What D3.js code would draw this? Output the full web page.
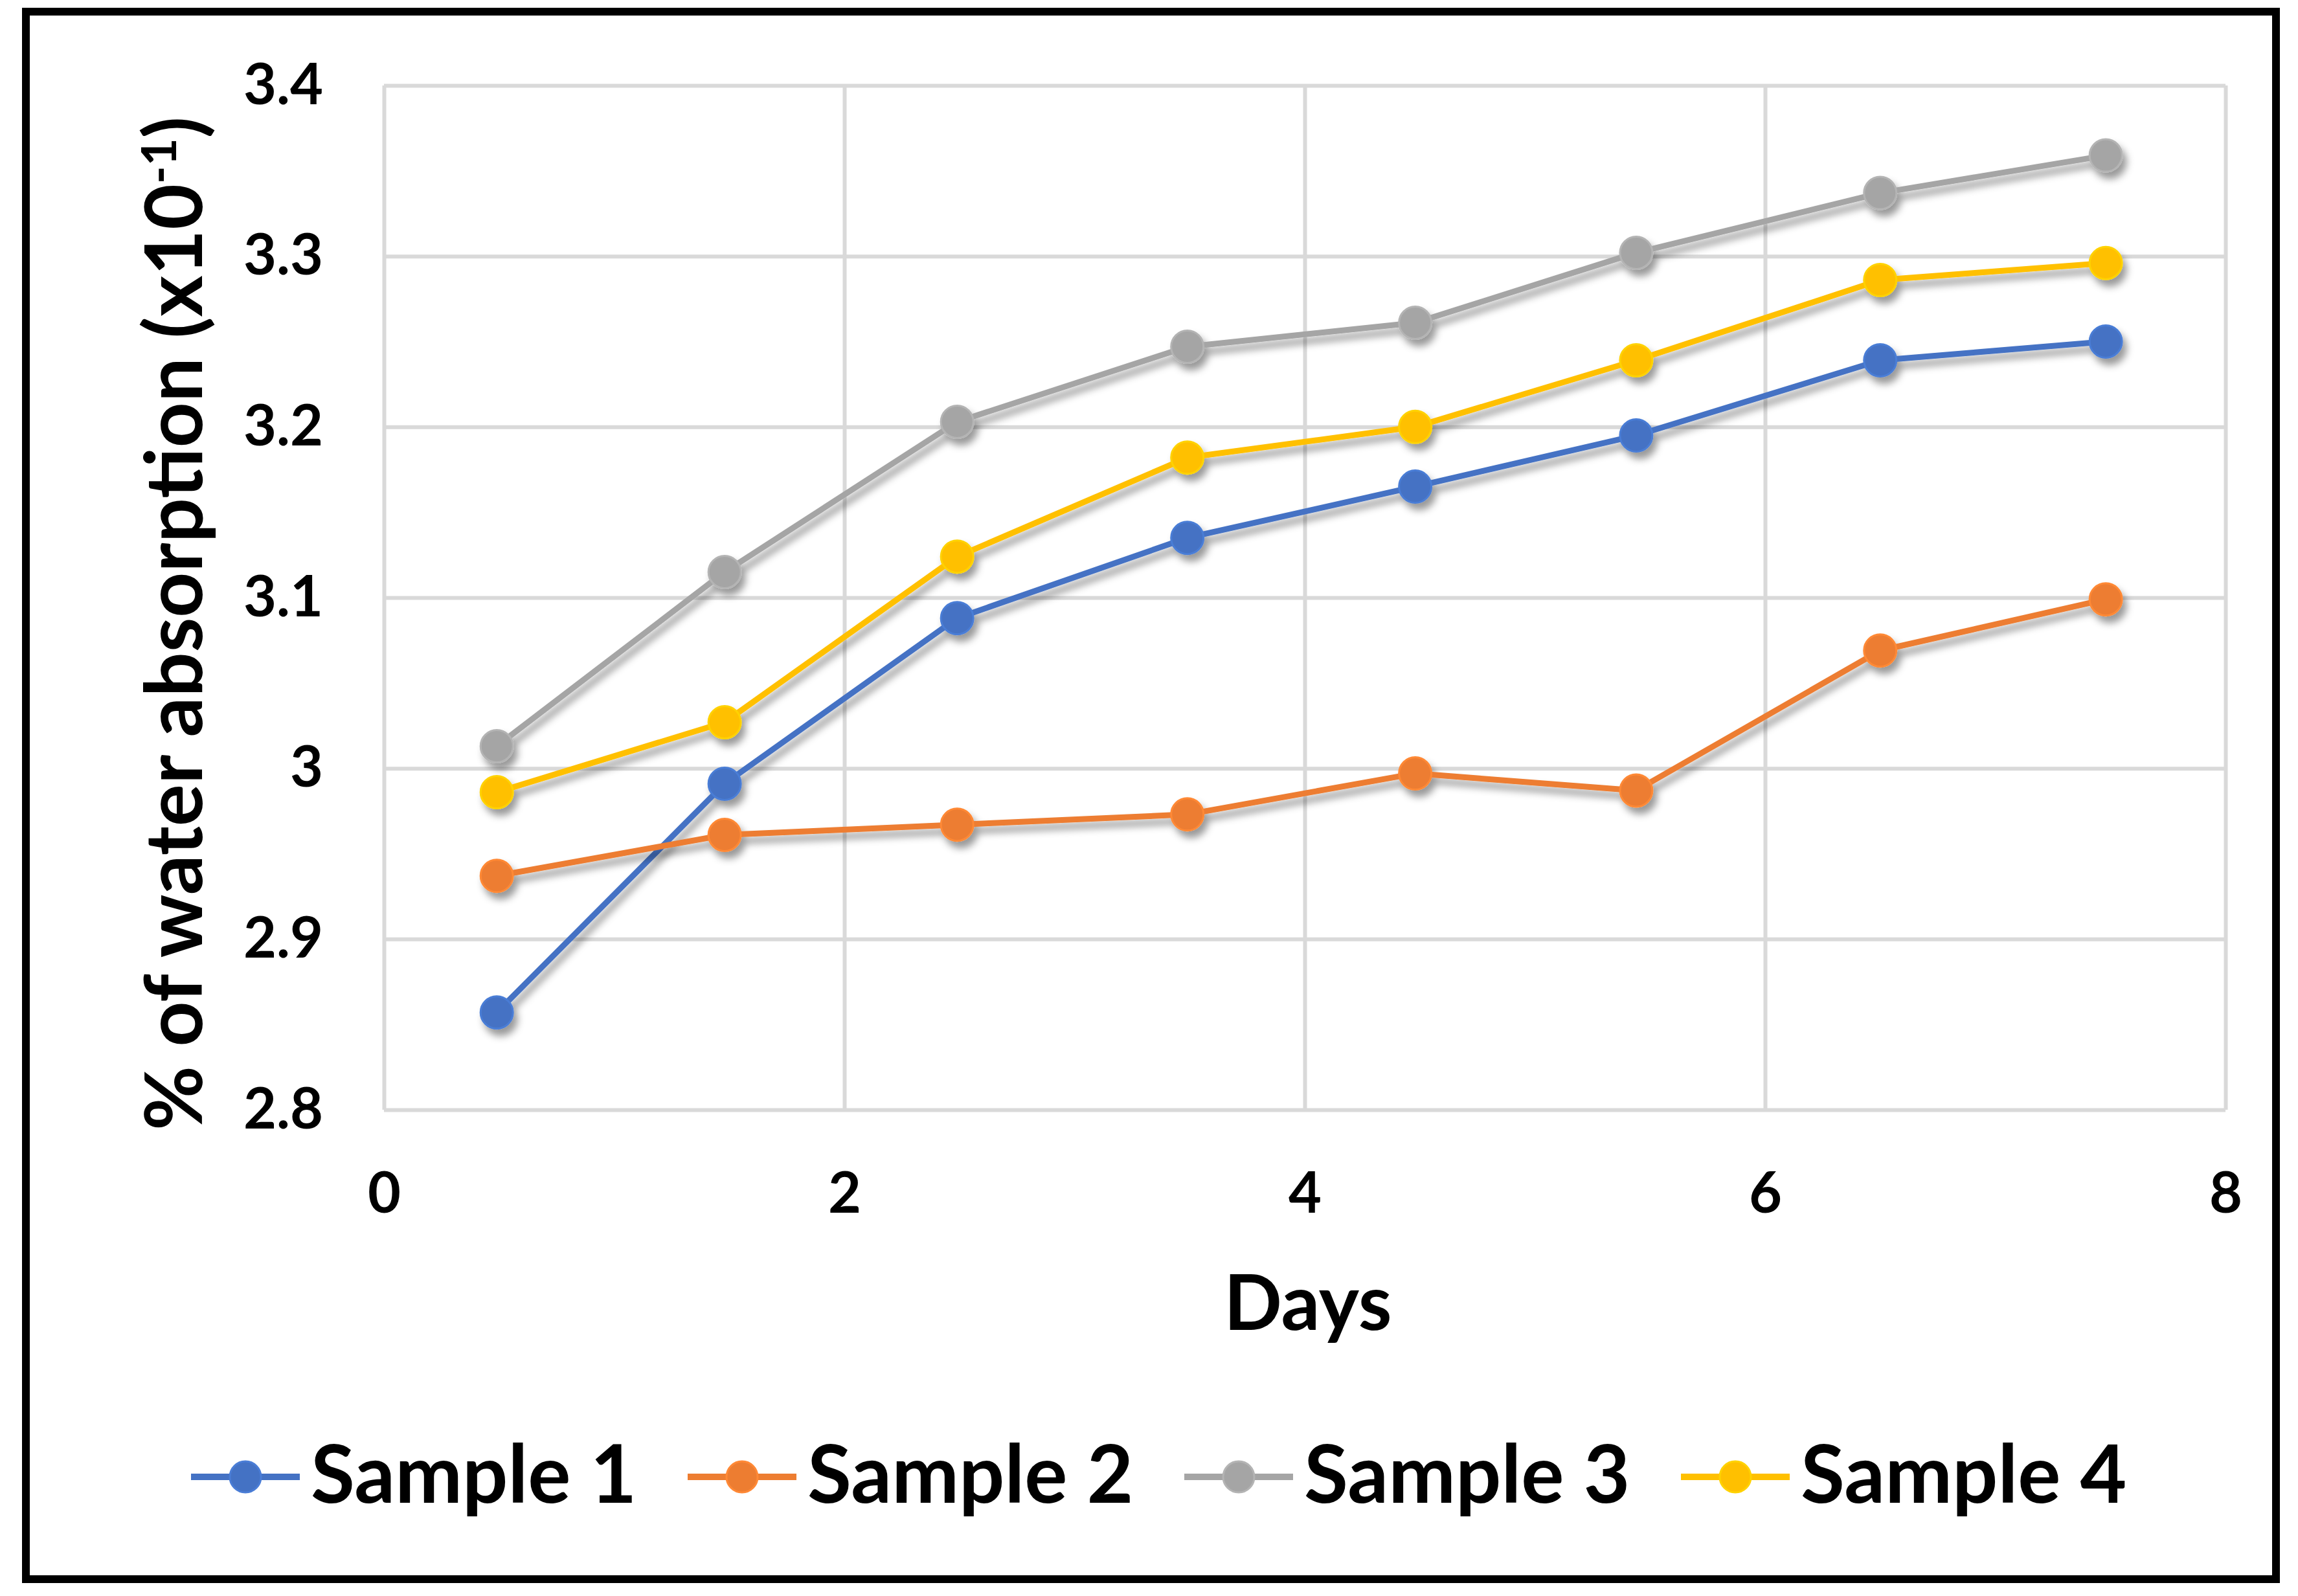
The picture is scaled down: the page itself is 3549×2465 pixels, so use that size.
<!DOCTYPE html>
<html>
<head>
<meta charset="utf-8">
<script src="https://cdn.jsdelivr.net/npm/d3@7"></script>
<style>
  body { margin: 0; background: #fff; }
  svg { display: block; }
</style>
</head>
<body>
<svg id="chart" width="3549" height="2465"></svg>
<script>
// ─── DONNÉES ──────────────────────────────────────────────────────────────────
const days    = [0.49, 1.48, 2.49, 3.49, 4.48, 5.44, 6.5, 7.48];
const sample1 = [2.857, 2.991, 3.088, 3.135, 3.165, 3.195, 3.239, 3.250];
const sample2 = [2.937, 2.961, 2.967, 2.973, 2.997, 2.987, 3.069, 3.099];
const sample3 = [3.013, 3.115, 3.203, 3.247, 3.261, 3.302, 3.337, 3.359];
const sample4 = [2.986, 3.027, 3.124, 3.182, 3.200, 3.239, 3.286, 3.296];

const seriesNames  = ["Sample 1", "Sample 2", "Sample 3", "Sample 4"];
const seriesColors = ["#4472C4", "#ED7D31", "#A5A5A5", "#FFC000"];

const xTicks = [0, 2, 4, 6, 8];
const yTicks = [2.8, 2.9, 3.0, 3.1, 3.2, 3.3, 3.4];

const series = [sample1, sample2, sample3, sample4].map((vals, i) => ({
    name: seriesNames[i],
    color: seriesColors[i],
    points: vals.map((v, j) => ({ x: days[j], y: v }))
}));

// ─── MISE EN PAGE ─────────────────────────────────────────────────────────────
const FONT = "Lato, 'Open Sans', sans-serif";
const plot = { left: 593, right: 3437, top: 132, bottom: 1714 };
const W = plot.right - plot.left;
const H = plot.bottom - plot.top;

const svg = d3.select("#chart");

svg.append("rect")
    .attr("width", 3549).attr("height", 2465)
    .attr("fill", "#fff");

// Cadre noir
svg.append("rect")
    .attr("x", 40).attr("y", 18)
    .attr("width", 3475).attr("height", 2421)
    .attr("fill", "none")
    .attr("stroke", "#000")
    .attr("stroke-width", 12);

const defs = svg.append("defs");
defs.append("filter")
    .attr("id", "shadow")
    .attr("filterUnits", "userSpaceOnUse")
    .attr("x", 0).attr("y", 0).attr("width", 3549).attr("height", 2465)
    .append("feDropShadow")
    .attr("dx", 6).attr("dy", 10)
    .attr("stdDeviation", 6)
    .attr("flood-color", "#000")
    .attr("flood-opacity", 0.4);

const g = svg.append("g")
    .attr("transform", `translate(${plot.left},${plot.top})`);

const x = d3.scaleLinear().domain([0, 8]).range([0, W]);
const y = d3.scaleLinear().domain([2.8, 3.4]).range([H, 0]);

// Axe Y + grille horizontale
g.append("g")
    .call(d3.axisLeft(y)
        .tickValues(yTicks)
        .tickSize(-W)
        .tickPadding(94)
        .tickFormat(d => String(+d.toFixed(1))))
    .call(a => a.select(".domain").remove())
    .call(a => a.selectAll(".tick line").attr("stroke", "#D9D9D9").attr("stroke-width", 6))
    .call(a => a.selectAll("text")
        .attr("fill", "#000")
        .style("font-size", "88px")
        .style("font-weight", "700")
        .style("font-family", FONT));

// Axe X + grille verticale
g.append("g")
    .attr("transform", `translate(0,${H})`)
    .call(d3.axisBottom(x)
        .tickValues(xTicks)
        .tickSize(-H)
        .tickPadding(97)
        .tickFormat(d3.format("d")))
    .call(a => a.select(".domain").remove())
    .call(a => a.selectAll(".tick line").attr("stroke", "#D9D9D9").attr("stroke-width", 6))
    .call(a => a.selectAll("text")
        .attr("fill", "#000")
        .style("font-size", "88px")
        .style("font-weight", "700")
        .style("font-family", FONT));

// Séries
const line = d3.line().x(d => x(d.x)).y(d => y(d.y));

const sg = g.selectAll(".series")
    .data(series)
    .enter()
    .append("g")
    .attr("class", "series")
    .attr("filter", "url(#shadow)");

sg.append("path")
    .attr("d", d => line(d.points))
    .attr("fill", "none")
    .attr("stroke", d => d.color)
    .attr("stroke-width", 9)
    .attr("stroke-linejoin", "round");

sg.selectAll("circle")
    .data(d => d.points.map(p => ({ ...p, color: d.color })))
    .enter()
    .append("circle")
    .attr("cx", d => x(d.x))
    .attr("cy", d => y(d.y))
    .attr("r", 25)
    .attr("fill", d => d.color)
    .attr("stroke", d => d3.color(d.color).brighter(0.25))
    .attr("stroke-width", 3);

// Titres d'axes
svg.append("text")
    .attr("x", 2020).attr("y", 2054)
    .attr("text-anchor", "middle")
    .style("font-size", "118px").style("font-weight", "700")
    .style("font-family", FONT)
    .text("Days");

const yTitle = svg.append("text")
    .attr("transform", "translate(312,963) rotate(-90)")
    .attr("text-anchor", "middle")
    .style("font-size", "122px").style("font-weight", "700")
    .style("font-family", FONT);
yTitle.append("tspan").text("% of water absorption (x10");
yTitle.append("tspan").attr("dy", -40).style("font-size", "74px").text("-1");
yTitle.append("tspan").attr("dy", 40).text(")");

// Légende
const legend = svg.append("g").attr("transform", "translate(295,2281)");
const item = legend.selectAll(".item")
    .data(series)
    .enter()
    .append("g")
    .attr("transform", (d, i) => `translate(${i * 767},0)`);

item.append("line")
    .attr("x1", 0).attr("x2", 168)
    .attr("stroke", d => d.color)
    .attr("stroke-width", 10);

item.append("circle")
    .attr("cx", 84).attr("r", 24)
    .attr("fill", d => d.color)
    .attr("stroke", d => d3.color(d.color).brighter(0.25))
    .attr("stroke-width", 3);

item.append("text")
    .attr("x", 185).attr("y", 40)
    .style("font-size", "124px").style("font-weight", "700")
    .style("font-family", FONT)
    .text(d => d.name);
</script>
</body>
</html>
